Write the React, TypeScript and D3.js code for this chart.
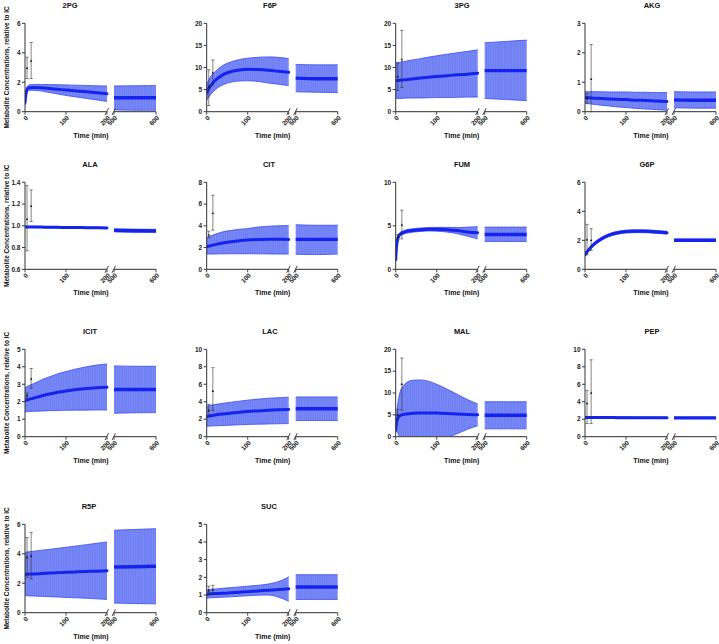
import React from "react";
import * as d3 from "d3";

// ---- time grids ----
const T1 = [0, 2, 5, 10, 20, 40, 60, 80, 100, 125, 150, 175, 200];
const T2 = [500, 550, 600];
const PT = [5, 15];

// ---- 2PG ----
const PG2_mean = [0.6, 1.15, 1.5, 1.63, 1.65, 1.62, 1.57, 1.52, 1.47, 1.41, 1.35, 1.28, 1.22];
const PG2_hi = [0.75, 1.35, 1.7, 1.82, 1.85, 1.85, 1.84, 1.83, 1.82, 1.8, 1.78, 1.76, 1.74];
const PG2_lo = [0.45, 0.95, 1.3, 1.45, 1.45, 1.4, 1.3, 1.2, 1.1, 1.0, 0.9, 0.8, 0.7];
const PG2_mean2 = [0.95, 0.95, 0.95];
const PG2_hi2 = [1.75, 1.76, 1.77];
const PG2_lo2 = [0.12, 0.1, 0.1];
const PG2_pts = [2.95, 3.45];
const PG2_ptLo = [2.25, 2.25];
const PG2_ptHi = [3.7, 4.7];

// ---- F6P ----
const F6P_mean = [4.3, 4.7, 5.2, 5.9, 7.0, 8.4, 9.1, 9.45, 9.6, 9.55, 9.4, 9.15, 8.9];
const F6P_hi = [6.0, 6.6, 7.2, 8.0, 9.0, 10.5, 11.3, 11.8, 12.1, 12.3, 12.4, 12.3, 12.0];
const F6P_lo = [2.6, 2.9, 3.3, 3.9, 4.9, 6.1, 6.7, 6.95, 7.0, 6.85, 6.5, 6.2, 5.9];
const F6P_mean2 = [7.6, 7.45, 7.45];
const F6P_hi2 = [10.7, 10.6, 10.6];
const F6P_lo2 = [4.5, 4.4, 4.3];
const F6P_pts = [5.6, 8.8];
const F6P_ptLo = [1.4, 6.0];
const F6P_ptHi = [9.5, 11.7];

// ---- 3PG ----
const PG3_mean = [7.0, 7.02, 7.05, 7.1, 7.2, 7.4, 7.6, 7.8, 7.95, 8.15, 8.35, 8.5, 8.7];
const PG3_hi = [11.0, 11.05, 11.1, 11.2, 11.35, 11.7, 12.0, 12.35, 12.65, 13.0, 13.35, 13.65, 14.0];
const PG3_lo = [3.0, 3.0, 3.0, 3.0, 3.05, 3.1, 3.1, 3.15, 3.2, 3.2, 3.25, 3.3, 3.3];
const PG3_mean2 = [9.3, 9.3, 9.3];
const PG3_hi2 = [15.6, 15.9, 16.2];
const PG3_lo2 = [3.0, 2.75, 2.5];
const PG3_pts = [7.9, 11.8];
const PG3_ptLo = [4.8, 5.5];
const PG3_ptHi = [11.0, 18.4];

// ---- AKG ----
const AKG_mean = [0.48, 0.48, 0.48, 0.47, 0.46, 0.45, 0.43, 0.42, 0.41, 0.39, 0.38, 0.36, 0.35];
const AKG_hi = [0.68, 0.68, 0.68, 0.68, 0.68, 0.68, 0.67, 0.67, 0.67, 0.66, 0.66, 0.65, 0.65];
const AKG_lo = [0.28, 0.28, 0.27, 0.27, 0.25, 0.22, 0.19, 0.16, 0.14, 0.11, 0.09, 0.07, 0.05];
const AKG_mean2 = [0.4, 0.39, 0.39];
const AKG_hi2 = [0.68, 0.67, 0.67];
const AKG_lo2 = [0.13, 0.12, 0.12];
const AKG_pts = [0.45, 1.1];
const AKG_ptLo = [0.3, 0.0];
const AKG_ptHi = [0.62, 2.28];

// ---- ALA ----
const ALA_mean = [0.99, 0.99, 0.99, 0.99, 0.99, 0.988, 0.987, 0.986, 0.985, 0.984, 0.983, 0.982, 0.98];
const ALA_hi = [0.995, 0.995, 0.995, 0.995, 0.995, 0.993, 0.992, 0.991, 0.99, 0.989, 0.988, 0.987, 0.985];
const ALA_lo = [0.985, 0.985, 0.985, 0.985, 0.985, 0.983, 0.982, 0.981, 0.98, 0.979, 0.978, 0.977, 0.975];
const ALA_mean2 = [0.958, 0.955, 0.953];
const ALA_hi2 = [0.972, 0.969, 0.967];
const ALA_lo2 = [0.944, 0.941, 0.939];
const ALA_pts = [1.06, 1.18];
const ALA_ptLo = [0.77, 1.04];
const ALA_ptHi = [1.37, 1.33];

// ---- CIT ----
const CIT_mean = [2.07, 2.1, 2.13, 2.18, 2.27, 2.42, 2.54, 2.63, 2.69, 2.74, 2.77, 2.76, 2.75];
const CIT_hi = [2.9, 2.94, 3.0, 3.08, 3.22, 3.45, 3.58, 3.68, 3.75, 3.88, 3.96, 4.0, 4.02];
const CIT_lo = [1.4, 1.4, 1.4, 1.4, 1.41, 1.42, 1.43, 1.43, 1.43, 1.42, 1.41, 1.4, 1.4];
const CIT_mean2 = [2.75, 2.75, 2.75];
const CIT_hi2 = [4.1, 4.05, 4.05];
const CIT_lo2 = [1.38, 1.35, 1.4];
const CIT_pts = [3.15, 5.15];
const CIT_ptLo = [2.9, 3.6];
const CIT_ptHi = [3.5, 6.8];

// ---- FUM ----
const FUM_mean = [1.1, 2.6, 3.5, 4.0, 4.25, 4.45, 4.55, 4.6, 4.6, 4.55, 4.45, 4.3, 4.2];
const FUM_hi = [1.2, 2.75, 3.7, 4.2, 4.45, 4.65, 4.75, 4.8, 4.82, 4.82, 4.8, 4.85, 4.9];
const FUM_lo = [1.0, 2.45, 3.3, 3.8, 4.05, 4.25, 4.35, 4.4, 4.38, 4.28, 4.1, 3.8, 3.5];
const FUM_mean2 = [4.0, 4.0, 4.0];
const FUM_hi2 = [4.85, 4.85, 4.85];
const FUM_lo2 = [3.2, 3.2, 3.2];
const FUM_pts = [3.7, 5.1];
const FUM_ptLo = [3.4, 3.5];
const FUM_ptHi = [4.0, 6.8];

// ---- G6P ----
const G6P_mean = [1.0, 1.08, 1.2, 1.38, 1.68, 2.1, 2.37, 2.52, 2.6, 2.63, 2.62, 2.58, 2.52];
const G6P_hi = [1.1, 1.18, 1.3, 1.48, 1.78, 2.2, 2.47, 2.62, 2.7, 2.73, 2.72, 2.68, 2.62];
const G6P_lo = [0.9, 0.98, 1.1, 1.28, 1.58, 2.0, 2.27, 2.42, 2.5, 2.53, 2.52, 2.48, 2.42];
const G6P_mean2 = [2.0, 2.0, 2.0];
const G6P_hi2 = [2.08, 2.08, 2.08];
const G6P_lo2 = [1.92, 1.92, 1.92];
const G6P_pts = [2.05, 2.0];
const G6P_ptLo = [1.0, 1.3];
const G6P_ptHi = [3.1, 2.8];

// ---- ICIT ----
const ICIT_mean = [2.06, 2.08, 2.1, 2.14, 2.2, 2.33, 2.44, 2.54, 2.62, 2.7, 2.76, 2.8, 2.83];
const ICIT_hi = [2.8, 2.83, 2.87, 2.93, 3.03, 3.25, 3.43, 3.6, 3.73, 3.88, 4.0, 4.1, 4.16];
const ICIT_lo = [1.41, 1.42, 1.43, 1.44, 1.45, 1.47, 1.49, 1.5, 1.51, 1.52, 1.52, 1.53, 1.53];
const ICIT_mean2 = [2.7, 2.7, 2.7];
const ICIT_hi2 = [4.05, 4.03, 4.03];
const ICIT_lo2 = [1.34, 1.37, 1.38];
const ICIT_pts = [2.35, 3.3];
const ICIT_ptLo = [2.2, 2.77];
const ICIT_ptHi = [2.5, 3.9];

// ---- LAC ----
const LAC_mean = [2.3, 2.32, 2.35, 2.4, 2.48, 2.6, 2.7, 2.8, 2.88, 2.95, 3.02, 3.08, 3.12];
const LAC_hi = [3.5, 3.52, 3.55, 3.6, 3.68, 3.82, 3.95, 4.07, 4.18, 4.3, 4.4, 4.47, 4.52];
const LAC_lo = [1.2, 1.2, 1.21, 1.22, 1.24, 1.28, 1.32, 1.36, 1.4, 1.43, 1.46, 1.48, 1.5];
const LAC_mean2 = [3.2, 3.2, 3.2];
const LAC_hi2 = [4.55, 4.55, 4.55];
const LAC_lo2 = [1.85, 1.85, 1.85];
const LAC_pts = [3.0, 5.2];
const LAC_ptLo = [2.3, 3.0];
const LAC_ptHi = [3.7, 7.9];

// ---- MAL ----
const MAL_mean = [1.5, 3.2, 4.2, 4.8, 5.1, 5.35, 5.45, 5.45, 5.4, 5.3, 5.2, 5.1, 5.0];
const MAL_hi = [2.0, 5.0, 7.5, 10.0, 11.8, 12.9, 13.0, 12.7, 12.0, 10.9, 9.7, 8.5, 7.5];
const MAL_lo = [1.0, 1.4, 0.9, -0.4, -1.6, -2.2, -2.1, -1.8, -1.2, -0.3, 0.7, 1.7, 2.5];
const MAL_mean2 = [4.9, 4.9, 4.9];
const MAL_hi2 = [8.0, 8.0, 8.0];
const MAL_lo2 = [1.8, 1.8, 1.8];
const MAL_pts = [5.0, 12.0];
const MAL_ptLo = [4.0, 6.1];
const MAL_ptHi = [6.3, 18.0];

// ---- PEP ----
const PEP_mean = [2.2, 2.2, 2.2, 2.2, 2.2, 2.19, 2.19, 2.18, 2.18, 2.17, 2.17, 2.16, 2.16];
const PEP_hi = [2.32, 2.32, 2.32, 2.32, 2.31, 2.3, 2.29, 2.28, 2.27, 2.26, 2.25, 2.24, 2.24];
const PEP_lo = [2.08, 2.08, 2.08, 2.08, 2.09, 2.08, 2.09, 2.08, 2.09, 2.08, 2.09, 2.08, 2.08];
const PEP_mean2 = [2.15, 2.15, 2.15];
const PEP_hi2 = [2.22, 2.22, 2.22];
const PEP_lo2 = [2.08, 2.08, 2.08];
const PEP_pts = [3.8, 5.0];
const PEP_ptLo = [1.5, 1.5];
const PEP_ptHi = [5.3, 8.8];

// ---- R5P ----
const R5P_mean = [2.6, 2.6, 2.61, 2.62, 2.63, 2.66, 2.69, 2.72, 2.74, 2.77, 2.8, 2.82, 2.85];
const R5P_hi = [4.1, 4.1, 4.12, 4.14, 4.17, 4.24, 4.3, 4.37, 4.44, 4.53, 4.62, 4.71, 4.8];
const R5P_lo = [1.15, 1.15, 1.15, 1.14, 1.13, 1.11, 1.09, 1.06, 1.04, 1.01, 0.98, 0.94, 0.9];
const R5P_mean2 = [3.1, 3.12, 3.15];
const R5P_hi2 = [5.6, 5.65, 5.7];
const R5P_lo2 = [0.65, 0.62, 0.6];
const R5P_pts = [3.75, 3.85];
const R5P_ptLo = [2.4, 2.3];
const R5P_ptHi = [5.1, 5.45];

// ---- SUC ----
const SUC_mean = [1.05, 1.05, 1.06, 1.07, 1.08, 1.1, 1.13, 1.16, 1.19, 1.23, 1.27, 1.31, 1.35];
const SUC_hi = [1.3, 1.3, 1.31, 1.32, 1.34, 1.38, 1.42, 1.46, 1.5, 1.55, 1.62, 1.76, 2.02];
const SUC_lo = [0.82, 0.82, 0.83, 0.84, 0.86, 0.88, 0.9, 0.93, 0.96, 0.99, 1.0, 0.88, 0.65];
const SUC_mean2 = [1.45, 1.45, 1.45];
const SUC_hi2 = [2.15, 2.15, 2.15];
const SUC_lo2 = [0.75, 0.75, 0.75];
const SUC_pts = [1.25, 1.3];
const SUC_ptLo = [1.0, 1.05];
const SUC_ptHi = [1.5, 1.55];

const metaboliteNames = ["2PG", "F6P", "3PG", "AKG", "ALA", "CIT", "FUM", "G6P", "ICIT", "LAC", "MAL", "PEP", "R5P", "SUC"];
const yDomains = [[0, 6], [0, 20], [0, 20], [0, 3], [0.6, 1.4], [0, 8], [0, 10], [0, 6], [0, 5], [0, 10], [0, 20], [0, 10], [0, 6], [0, 5]];
const yTickValues = [
  [0, 2, 4, 6], [0, 5, 10, 15, 20], [0, 5, 10, 15, 20], [0, 1, 2, 3],
  [0.6, 0.8, 1.0, 1.2, 1.4], [0, 2, 4, 6, 8], [0, 5, 10], [0, 2, 4, 6],
  [0, 1, 2, 3, 4, 5], [0, 2, 4, 6, 8, 10], [0, 5, 10, 15, 20], [0, 2, 4, 6, 8, 10],
  [0, 2, 4, 6], [0, 1, 2, 3, 4, 5],
];
const xTicks1 = [0, 100, 200];
const xTicks2 = [500, 600];

const series = [
  [PG2_mean, PG2_lo, PG2_hi, PG2_mean2, PG2_lo2, PG2_hi2, PG2_pts, PG2_ptLo, PG2_ptHi],
  [F6P_mean, F6P_lo, F6P_hi, F6P_mean2, F6P_lo2, F6P_hi2, F6P_pts, F6P_ptLo, F6P_ptHi],
  [PG3_mean, PG3_lo, PG3_hi, PG3_mean2, PG3_lo2, PG3_hi2, PG3_pts, PG3_ptLo, PG3_ptHi],
  [AKG_mean, AKG_lo, AKG_hi, AKG_mean2, AKG_lo2, AKG_hi2, AKG_pts, AKG_ptLo, AKG_ptHi],
  [ALA_mean, ALA_lo, ALA_hi, ALA_mean2, ALA_lo2, ALA_hi2, ALA_pts, ALA_ptLo, ALA_ptHi],
  [CIT_mean, CIT_lo, CIT_hi, CIT_mean2, CIT_lo2, CIT_hi2, CIT_pts, CIT_ptLo, CIT_ptHi],
  [FUM_mean, FUM_lo, FUM_hi, FUM_mean2, FUM_lo2, FUM_hi2, FUM_pts, FUM_ptLo, FUM_ptHi],
  [G6P_mean, G6P_lo, G6P_hi, G6P_mean2, G6P_lo2, G6P_hi2, G6P_pts, G6P_ptLo, G6P_ptHi],
  [ICIT_mean, ICIT_lo, ICIT_hi, ICIT_mean2, ICIT_lo2, ICIT_hi2, ICIT_pts, ICIT_ptLo, ICIT_ptHi],
  [LAC_mean, LAC_lo, LAC_hi, LAC_mean2, LAC_lo2, LAC_hi2, LAC_pts, LAC_ptLo, LAC_ptHi],
  [MAL_mean, MAL_lo, MAL_hi, MAL_mean2, MAL_lo2, MAL_hi2, MAL_pts, MAL_ptLo, MAL_ptHi],
  [PEP_mean, PEP_lo, PEP_hi, PEP_mean2, PEP_lo2, PEP_hi2, PEP_pts, PEP_ptLo, PEP_ptHi],
  [R5P_mean, R5P_lo, R5P_hi, R5P_mean2, R5P_lo2, R5P_hi2, R5P_pts, R5P_ptLo, R5P_ptHi],
  [SUC_mean, SUC_lo, SUC_hi, SUC_mean2, SUC_lo2, SUC_hi2, SUC_pts, SUC_ptLo, SUC_ptHi],
];

// ---- layout ----
const W = 719, H = 644;
const colX = [25, 206.7, 395.7, 585];
const rowTop = [23.3, 182.3, 349.3, 524.3];
const rowBottom = [111.7, 269.3, 436.7, 612.7];
const SEG1 = 82, GAP = 7, SEG2 = 42;
const titleX = [70, 270, 462, 652, 90, 269, 462, 647, 90, 270, 462, 652, 89, 269];
const FONT = "'Liberation Sans', Arial, Helvetica, sans-serif";
const BAND = "url(#stripes)";
const LINE = "#1424ee";

function Panel({ i }: { i: number }) {
  const col = i % 4, row = Math.floor(i / 4);
  const x0 = colX[col];
  const top = rowTop[row], bottom = rowBottom[row];
  const [m1, lo1, hi1, m2, lo2, hi2, pts, ptLo, ptHi] = series[i];
  const dom = yDomains[i];
  const y = d3.scaleLinear().domain(dom).range([bottom, top]);
  const x1 = d3.scaleLinear().domain([0, 200]).range([x0, x0 + SEG1]);
  const x2 = d3.scaleLinear().domain([500, 600]).range([x0 + SEG1 + GAP, x0 + SEG1 + GAP + SEG2]);
  const clamp = (v: number) => Math.max(dom[0], Math.min(dom[1], v));

  const area1 = d3.area<number>().x((_, k) => x1(T1[k])).y0((_, k) => y(clamp(lo1[k]))).y1((_, k) => y(clamp(hi1[k]))).curve(d3.curveMonotoneX);
  const hiLine1 = d3.line<number>().x((_, k) => x1(T1[k])).y((_, k) => y(clamp(hi1[k]))).curve(d3.curveMonotoneX);
  const loLine1 = d3.line<number>().x((_, k) => x1(T1[k])).y((_, k) => y(clamp(lo1[k]))).curve(d3.curveMonotoneX);
  const mean1 = d3.line<number>().x((_, k) => x1(T1[k])).y((_, k) => y(m1[k])).curve(d3.curveMonotoneX);
  const area2 = d3.area<number>().x((_, k) => x2(T2[k])).y0((_, k) => y(clamp(lo2[k]))).y1((_, k) => y(clamp(hi2[k]))).curve(d3.curveMonotoneX);
  const hiLine2 = d3.line<number>().x((_, k) => x2(T2[k])).y((_, k) => y(clamp(hi2[k]))).curve(d3.curveMonotoneX);
  const loLine2 = d3.line<number>().x((_, k) => x2(T2[k])).y((_, k) => y(clamp(lo2[k]))).curve(d3.curveMonotoneX);
  const mean2 = d3.line<number>().x((_, k) => x2(T2[k])).y((_, k) => y(m2[k])).curve(d3.curveMonotoneX);

  const fmt = dom[1] < 2 ? d3.format(".1f") : d3.format("d");
  const tickLab = (xx: number, t: string, key: string) => (
    <text key={key} transform={`translate(${xx + 2},${bottom + 5}) rotate(-45)`} textAnchor="end" dy="0.35em" fontSize={6.5} fontWeight="bold" fill="#222">{t}</text>
  );
  const brk = (xx: number, key: string) => (
    <line key={key} x1={xx - 2} y1={bottom + 3.5} x2={xx + 1.5} y2={bottom - 3.5} stroke="#444" strokeWidth={1} />
  );
  const clipId = `clip${i}`;
  return (
    <g>
      <defs>
        <clipPath id={clipId}>
          <rect x={x0} y={top - 2} width={SEG1 + GAP + SEG2 + 2} height={bottom - top + 2} />
        </clipPath>
      </defs>
      <text x={titleX[i]} y={top - 15} textAnchor="middle" fontSize={7.5} fontWeight="bold" fill="#111">{metaboliteNames[i]}</text>
      <g clipPath={`url(#${clipId})`}>
        <path d={area1(T1) || ""} fill={BAND} />
        <path d={hiLine1(T1) || ""} fill="none" stroke="#3a4cf0" strokeWidth={0.8} />
        <path d={loLine1(T1) || ""} fill="none" stroke="#3a4cf0" strokeWidth={0.8} />
        <path d={area2(T2) || ""} fill={BAND} />
        <path d={hiLine2(T2) || ""} fill="none" stroke="#3a4cf0" strokeWidth={0.8} />
        <path d={loLine2(T2) || ""} fill="none" stroke="#3a4cf0" strokeWidth={0.8} />
        <path d={mean1(T1) || ""} fill="none" stroke={LINE} strokeWidth={3} strokeLinecap="round" />
        <path d={mean2(T2) || ""} fill="none" stroke={LINE} strokeWidth={3.4} />
      </g>
      {/* data points with error bars */}
      {PT.map((t, k) => {
        const xx = x1(t);
        const yl = y(clamp(ptLo[k])), yh = y(clamp(ptHi[k])), yc = y(pts[k]);
        return (
          <g key={k} stroke="#333" strokeWidth={0.6}>
            <line x1={xx} x2={xx} y1={yl} y2={yh} />
            <line x1={xx - 1.6} x2={xx + 1.6} y1={yh} y2={yh} />
            <line x1={xx - 1.6} x2={xx + 1.6} y1={yl} y2={yl} />
            <path d={`M${xx},${yc - 1.4}L${xx + 1.2},${yc + 0.8}L${xx - 1.2},${yc + 0.8}Z`} fill="#111" stroke="none" />
          </g>
        );
      })}
      {/* y axis */}
      <line x1={x0} x2={x0} y1={top} y2={bottom} stroke="#333" strokeWidth={1} />
      {yTickValues[i].map((v) => (
        <g key={v}>
          <line x1={x0 - 3} x2={x0} y1={y(v)} y2={y(v)} stroke="#333" strokeWidth={1} />
          <text x={x0 - 4.5} y={y(v)} dy="0.35em" textAnchor="end" fontSize={6.5} fontWeight="bold" fill="#222">{fmt(v)}</text>
        </g>
      ))}
      {/* x axis segments */}
      <line x1={x0} x2={x0 + SEG1} y1={bottom} y2={bottom} stroke="#555" strokeWidth={1.3} />
      <line x1={x0 + SEG1 + GAP} x2={x0 + SEG1 + GAP + SEG2} y1={bottom} y2={bottom} stroke="#555" strokeWidth={1.3} />
      {brk(x0 + SEG1, "b1")}
      {brk(x0 + SEG1 + GAP, "b2")}
      {xTicks1.map((t) => (
        <line key={"t1" + t} x1={x1(t)} x2={x1(t)} y1={bottom} y2={bottom + 3} stroke="#444" strokeWidth={1} />
      ))}
      {xTicks2.map((t) => (
        <line key={"t2" + t} x1={x2(t)} x2={x2(t)} y1={bottom} y2={bottom + 3} stroke="#444" strokeWidth={1} />
      ))}
      {xTicks1.map((t) => tickLab(x1(t), String(t), "l1" + t))}
      {xTicks2.map((t) => tickLab(x2(t), String(t), "l2" + t))}
      <text x={x0 + 66} y={bottom + 26} textAnchor="middle" fontSize={7} fontWeight="bold" fill="#111">Time (min)</text>
      {col === 0 && (
        <text transform={`translate(9,${(top + bottom) / 2}) rotate(-90)`} textAnchor="middle" fontSize={6.4} fontWeight="bold" fill="#111">
          Metabolite Concentrations, relative to IC
        </text>
      )}
    </g>
  );
}

export default function App() {
  return (
    <svg width={W} height={H} style={{ position: "absolute", left: 0, top: 0, background: "#fff" }} fontFamily={FONT}>
      <defs>
        <pattern id="stripes" width={1.8} height={10} patternUnits="userSpaceOnUse">
          <rect width={1.8} height={10} fill="#7d8cf6" />
          <rect width={0.7} height={10} fill="#6676f3" />
        </pattern>
      </defs>
      <rect width={W} height={H} fill="#fff" />
      {metaboliteNames.map((_, i) => (
        <Panel key={i} i={i} />
      ))}
    </svg>
  );
}
